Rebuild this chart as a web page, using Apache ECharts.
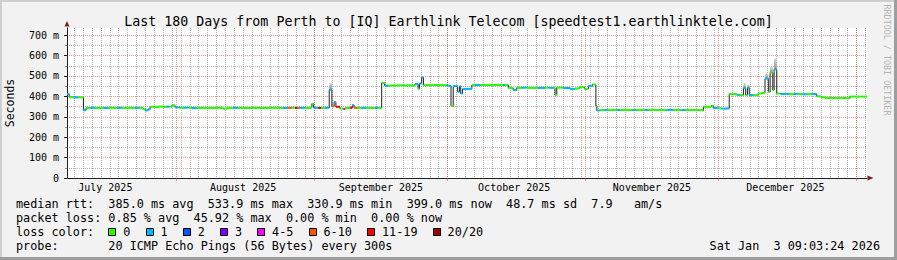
<!DOCTYPE html>
<html><head><meta charset="utf-8">
<script src="https://cdn.jsdelivr.net/npm/echarts@6/dist/echarts.min.js"></script>
<style>html,body{margin:0;padding:0;background:#f2f2f2}#c{width:897px;height:260px}</style>
</head><body><div id="c"></div>
<script>
// ---------- texts ----------
const titleText = 'Last 180 Days from Perth to [IQ] Earthlink Telecom [speedtest1.earthlinktele.com]';
const yAxisName = 'Seconds';
const medianLine = 'median rtt:  385.0 ms avg  533.9 ms max  330.9 ms min  399.0 ms now  48.7 ms sd  7.9   am/s';
const lossLine = 'packet loss: 0.85 % avg  45.92 % max  0.00 % min  0.00 % now';
const lossColorTitle = 'loss color:';
const probeLine = 'probe:       20 ICMP Echo Pings (56 Bytes) every 300s';
const dateText = 'Sat Jan  3 09:03:24 2026';
const watermark = 'RRDTOOL / TOBI OETIKER';

// ---------- time axis ----------
const startTime = '2025-07-07T09:03:24';
const spanDays = 180;
const monthStarts = ['2025-08-01','2025-09-01','2025-10-01','2025-11-01','2025-12-01','2026-01-01'];
const monthLabelDates = ['2025-07-16','2025-08-16','2025-09-16','2025-10-16','2025-11-16','2025-12-16'];
const monthLabels = ['July 2025','August 2025','September 2025','October 2025','November 2025','December 2025'];
const minorGridFirst = '2025-07-09';
const minorGridStepDays = 2;

// ---------- value axis ----------
const yMax = 735;
const yMajorTicks = [0,100,200,300,400,500,600,700];
const yMinorTicks = [50,150,250,350,450,550,650];

// ---------- loss legend ----------
const lossLabels = ['0','1','2','3','4-5','6-10','11-19','20/20'];
const lossUpper  = [0,1,2,3,5,10,19,20];
const lossColors = ['#26ff00','#00b8ff','#0059ff','#7e00ff','#ff00ff','#ff5500','#ff0000','#a00000'];

// ---------- data: median rtt (ms) per step, step start in days since start ----------
const days = [
  0,0.5,1.5,2.5,3.7,4.3,5.3,6.3,7.3,8.3,
  9.3,10.3,11.3,12.3,13.3,14.3,15.3,16.3,17.1,17.6,
  18.2,18.7,19.7,20.7,21.7,22.3,23.0,23.6,24.3,25.3,
  26.3,27.3,28.1,29.2,30.5,32,33.5,35.1,36,37.4,
  38.5,40,41.5,43,44.5,46,47.5,48.6,49.7,50.6,
  51.3,51.8,52.2,53.5,54.7,55.1,55.5,56.5,57.2,58,
  59.0,59.6,60.1,60.5,61.4,62.2,62.6,63.7,64.2,64.6,
  65.3,66.3,67.3,68.3,69.3,70.0,70.8,71.5,72.2,73.3,
  74.5,75.5,76.5,77.5,78.3,79.0,79.3,79.8,80.2,81.5,
  82.5,83.5,84.5,85.4,86.4,86.9,87.9,88.3,88.6,89.0,
  90.0,91.1,91.8,93,94.5,96,97,98.1,98.6,99.3,
  100.4,101.2,102.3,103.4,104.7,106.0,107.5,108.3,109.4,109.8,
  110.2,111.6,113.2,114.3,115.4,116.4,117.3,118.2,119.0,119.2,
  119.9,121.0,121.7,123.7,124.4,126,127.3,128,130,130.7,
  132.5,134.9,136.4,138.3,139.1,141,142.8,143.2,144.3,145.0,
  145.4,146.5,147.3,148.4,149.0,150.7,151.3,152.2,152.7,153.1,
  153.5,154.5,155.5,156.3,157.05,157.8,158.2,158.8,159.1,159.7,
  160.5,161.5,162.5,163.5,164.5,165.5,166.5,167.6,168.7,169.7,
  170.6,172,173.5,175,176.2,177.5,178.8
];
const median = [
  412,396,395,395,332,343,344,343,344,343,
  344,343,344,343,344,343,344,343,337,331,
  336,349,349,350,349,350,349,356,346,344,
  345,344,342,344,344,343,344,340,344,344,
  344,343,344,343,344,344,343,344,344,345,
  343,344,344,343,345,364,344,343,344,344,
  432,351,372,349,340,338,343,344,357,344,
  343,344,344,343,344,343,466,452,453,453,
  454,453,454,453,460,437,463,492,455,455,
  456,455,455,452,354,450,422,449,414,436,
  437,455,456,455,456,455,456,455,456,441,
  431,442,443,442,441,442,443,442,441,407,
  443,441,437,439,446,437,450,458,352,331,
  333,333,334,333,334,333,333,334,333,334,
  333,334,333,333,334,333,331,349,350,354,
  342,341,340,341,411,407,406,440,407,442,
  406,405,414,417,487,422,517,431,532,414,
  411,412,410,413,411,410,411,411,400,395,
  392,391,392,391,399,399,399
];
const loss = [
  1,0,1,0,1,0,1,0,0,1,
  0,0,1,0,0,0,1,0,0,1,
  1,0,0,0,0,1,0,0,1,0,
  1,0,1,0,0,0,0,0,0,1,
  0,0,0,0,0,0,0,1,8,0,
  14,8,1,0,0,0,1,14,0,1,
  1,8,1,14,0,4,0,14,1,8,
  0,1,0,0,1,0,0,1,0,0,
  0,0,0,0,1,0,1,1,0,0,
  0,0,0,1,0,1,1,1,1,1,
  1,0,1,0,0,0,0,1,0,0,
  1,0,1,0,0,1,0,1,0,0,
  0,1,1,0,0,0,1,0,0,1,
  0,1,0,1,0,0,1,0,1,0,
  0,1,0,1,0,0,0,0,0,0,
  1,0,1,1,0,1,0,1,0,1,
  1,0,0,0,1,0,0,0,1,0,
  1,1,0,1,0,1,0,1,0,0,
  0,0,0,0,0,0,0
];
// smoke (ping spread) visible above spikes
const smokeStart = [59.0, 79.8, 152.2, 153.1, 157.05, 158.2, 159.1];
const smokeEnd   = [59.6, 80.2, 152.7, 153.5, 157.8, 158.8, 159.7];
const smokeLow   = [432, 492, 440, 442, 487, 517, 532];
const smokeHigh  = [466, 500, 466, 458, 512, 545, 586];

// ---------- helpers ----------
const t0 = Date.parse(startTime + 'Z');
const toDay = s => (Date.parse(s + 'T00:00:00Z') - t0) / 864e5;
const majorDays = monthStarts.map(toDay);
const labelDays = monthLabelDates.map(toDay);
const minorDays = [];
for (let d = toDay(minorGridFirst); d < spanDays; d += minorGridStepDays) minorDays.push(d);
const lossColor = l => { for (let i = 0; i < lossUpper.length; i++) if (l <= lossUpper[i]) return lossColors[i]; return lossColors[lossColors.length-1]; };

const segs = days.map((d, i) => [d, median[i], loss[i], i + 1 < days.length ? days[i+1] : spanDays]);
const lineData = days.map((d, i) => [d, median[i]]).concat([[spanDays, median[median.length-1]]]);
const smokeData = smokeStart.map((s, i) => [s, smokeLow[i], smokeHigh[i], smokeEnd[i]]);

// ---------- styles ----------
const FONT = 'DejaVu Sans Mono';
const minorGrid = 'rgba(130,130,130,0.6)';
const majorGrid = 'rgba(222,79,79,0.6)';
const axisCol = '#1f1f1f';
const arrowCol = '#801f1f';
const GL = 67, GT = 28, GW = 800, GH = 150;

const chart = echarts.init(document.getElementById('c'), null, {renderer: 'svg'});

const graphics = [
  {type:'rect', shape:{x:0,y:0,width:897,height:2}, style:{fill:'#cfcfcf'}, silent:true},
  {type:'rect', shape:{x:0,y:0,width:2,height:260}, style:{fill:'#cfcfcf'}, silent:true},
  {type:'rect', shape:{x:0,y:257,width:897,height:3}, style:{fill:'#9e9e9e'}, silent:true},
  {type:'rect', shape:{x:894,y:0,width:3,height:260}, style:{fill:'#9e9e9e'}, silent:true},
  {type:'polygon', shape:{points:[[GL-2.5,GT-1.5],[GL+2.5,GT-1.5],[GL,GT-7]]}, style:{fill:arrowCol}, z:50},
  {type:'polygon', shape:{points:[[GL+GW+0.5,GT+GH-2.5],[GL+GW+0.5,GT+GH+2.5],[GL+GW+6.5,GT+GH]]}, style:{fill:arrowCol}, z:50},
  {type:'text', x:10, y:GT+GH/2, rotation:Math.PI/2, style:{text:yAxisName, font:'11.5px "'+FONT+'"', fill:'#000', align:'center', verticalAlign:'middle', textAlign:'center', textVerticalAlign:'middle'}},
  {type:'text', x:887, y:60, rotation:-Math.PI/2, style:{text:watermark, font:'8.4px "'+FONT+'"', fill:'#b4b4b4', align:'center', verticalAlign:'middle', textAlign:'center', textVerticalAlign:'middle'}},
  {type:'text', x:16, y:204, style:{text:medianLine, font:'11.8px "'+FONT+'"', fill:'#000', verticalAlign:'middle', textVerticalAlign:'middle'}},
  {type:'text', x:16, y:218, style:{text:lossLine, font:'11.8px "'+FONT+'"', fill:'#000', verticalAlign:'middle', textVerticalAlign:'middle'}},
  {type:'text', x:16, y:232, style:{text:lossColorTitle, font:'11.8px "'+FONT+'"', fill:'#000', verticalAlign:'middle', textVerticalAlign:'middle'}},
  {type:'text', x:16, y:246, style:{text:probeLine, font:'11.8px "'+FONT+'"', fill:'#000', verticalAlign:'middle', textVerticalAlign:'middle'}},
  {type:'text', x:880, y:246, style:{text:dateText, font:'11.8px "'+FONT+'"', fill:'#000', align:'right', textAlign:'right', verticalAlign:'middle', textVerticalAlign:'middle'}}
];
let sx = 108.3;
const CW = 7.1;
lossLabels.forEach((lab, i) => {
  graphics.push({type:'rect', shape:{x:Math.round(sx)+0.5, y:228.5, width:7, height:7}, style:{fill:lossColors[i], stroke:'#000', lineWidth:1}});
  graphics.push({type:'text', x:sx+15, y:232, style:{text:lab, font:'11.8px "'+FONT+'"', fill:'#000', verticalAlign:'middle', textVerticalAlign:'middle'}});
  sx += 37.2 + (lab.length - 1) * CW;
});

const xBase = {type:'value', min:0, max:spanDays, position:'bottom', gridIndex:0};
const yBase = {type:'value', min:0, max:yMax, position:'left', gridIndex:0};

chart.setOption({
  animation: false,
  backgroundColor: '#f2f2f2',
  textStyle: {fontFamily: FONT},
  title: {text: titleText, left: 'center', top: 10, textStyle: {fontFamily: FONT, fontSize: 13.3, fontWeight: 'normal', color: '#000'}},
  grid: {left: GL, top: GT, width: GW, height: GH, show: true, backgroundColor: '#ffffff', borderWidth: 0},
  xAxis: [
    Object.assign({}, xBase, {axisLine:{show:false}, axisTick:{show:false, customValues:minorDays}, axisLabel:{show:false},
      splitLine:{show:true, lineStyle:{color:minorGrid, type:[1,1], width:1}}}),
    Object.assign({}, xBase, {axisLine:{show:false}, axisTick:{show:true, customValues:majorDays, length:3, lineStyle:{color:majorGrid}}, axisLabel:{show:false},
      splitLine:{show:true, lineStyle:{color:majorGrid, type:[1,1], width:1}}}),
    Object.assign({}, xBase, {axisLine:{show:true, onZero:false, lineStyle:{color:axisCol, width:1}}, axisTick:{show:false},
      axisLabel:{show:true, customValues:labelDays, margin:4, fontSize:10, fontFamily:FONT, color:'#000',
        formatter: v => { let bi = 0, bd = 1e9; labelDays.forEach((d, i) => { const dd = Math.abs(d - v); if (dd < bd) { bd = dd; bi = i; } }); return monthLabels[bi]; }},
      splitLine:{show:false}})
  ],
  yAxis: [
    Object.assign({}, yBase, {axisLine:{show:false}, axisTick:{show:true, customValues:yMinorTicks, length:2, lineStyle:{color:'#8f8f8f'}}, axisLabel:{show:false},
      splitLine:{show:true, lineStyle:{color:minorGrid, type:[1,1], width:1}}}),
    Object.assign({}, yBase, {axisLine:{show:true, lineStyle:{color:axisCol, width:1}}, axisTick:{show:true, customValues:yMajorTicks, length:3, lineStyle:{color:axisCol}},
      axisLabel:{show:true, customValues:yMajorTicks, margin:8, fontSize:10, fontFamily:FONT, color:'#000', formatter: v => v === 0 ? '0' : v + ' m'},
      splitLine:{show:true, showMinLine:false, lineStyle:{color:majorGrid, type:[1,1], width:1}}})
  ],
  graphic: graphics,
  series: [
    {type:'custom', xAxisIndex:2, yAxisIndex:1, z:3, silent:true, data: smokeData, encode:{x:[0,3], y:[1,2]},
      renderItem: (p, api) => {
        const a = api.coord([api.value(0), api.value(2)]);
        const b = api.coord([api.value(3), api.value(1)]);
        return {type:'rect', shape:{x:a[0], y:a[1], width:Math.max(1, b[0]-a[0]), height:b[1]-a[1]},
          style:{fill:new echarts.graphic.LinearGradient(0,0,0,1,[{offset:0,color:'#d8d8d8'},{offset:1,color:'#8a8a8a'}])}};
      }},
    {type:'line', xAxisIndex:2, yAxisIndex:1, z:4, silent:true, step:'end', symbol:'none', data: lineData,
      lineStyle:{color:'#202020', width:1}},
    {type:'custom', xAxisIndex:2, yAxisIndex:1, z:5, silent:true, data: segs, encode:{x:[0,3], y:1},
      renderItem: (p, api) => {
        const a = api.coord([api.value(0), api.value(1)]);
        const b = api.coord([api.value(3), api.value(1)]);
        return {type:'rect', shape:{x:a[0], y:a[1]-1, width:b[0]-a[0], height:2}, style:{fill:lossColor(api.value(2))}};
      }}
  ]
});
</script>
</body></html>
